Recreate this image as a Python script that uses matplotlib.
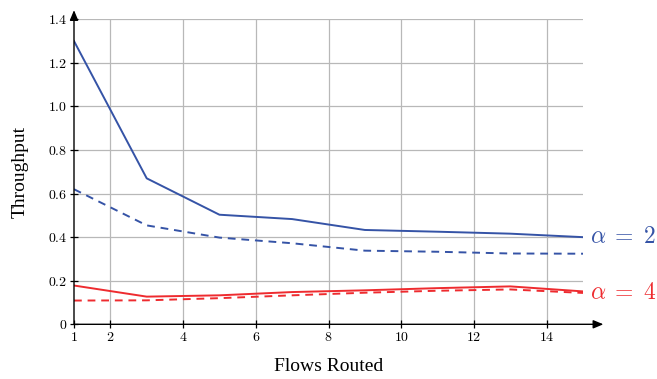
import matplotlib
matplotlib.use("Agg")
import matplotlib.pyplot as plt

plt.rcParams['font.family'] = ['Liberation Serif', 'DejaVu Serif']
plt.rcParams['mathtext.fontset'] = 'cm'

flows = [1, 3, 5, 7, 9, 11, 13, 15]
a2_solid = [1.30, 0.67, 0.503, 0.483, 0.433, 0.425, 0.416, 0.400]
a2_dashed = [0.62, 0.454, 0.398, 0.372, 0.338, 0.333, 0.325, 0.324]
a4_solid = [0.178, 0.127, 0.133, 0.148, 0.156, 0.166, 0.174, 0.151]
a4_dashed = [0.109, 0.110, 0.120, 0.133, 0.145, 0.154, 0.160, 0.144]

xticks = [1, 2, 4, 6, 8, 10, 12, 14]
yticks = [0, 0.2, 0.4, 0.6, 0.8, 1.0, 1.2, 1.4]
ytick_labels = ['0', '0.2', '0.4', '0.6', '0.8', '1.0', '1.2', '1.4']

blue = '#3553a6'
red = '#ee2b2f'

fig = plt.figure(figsize=(6.57, 3.79), dpi=100)
ax = fig.add_axes([74/657, 1-324.3/379, 509/657, 305/379])

ax.set_xlim(1, 15)
ax.set_ylim(0, 1.4)

for x in xticks[1:]:
    ax.axvline(x, color='#b8b8b8', lw=0.9, zorder=0)
for y in yticks[1:]:
    ax.axhline(y, color='#b8b8b8', lw=0.9, zorder=0)

ax.plot(flows, a2_solid, color=blue, lw=1.4)
ax.plot(flows, a2_dashed, color=blue, lw=1.4, ls=(0, (4, 3)))
ax.plot(flows, a4_solid, color=red, lw=1.4)
ax.plot(flows, a4_dashed, color=red, lw=1.4, ls=(0, (4, 3)))

for s in ['top', 'right', 'left', 'bottom']:
    ax.spines[s].set_visible(False)

# axes with arrows
ax.annotate('', xy=(1.04, 0), xytext=(0, 0), xycoords='axes fraction',
            arrowprops=dict(arrowstyle='-|>,head_length=0.6,head_width=0.25', color='black', lw=1.0, shrinkA=0, shrinkB=0))
ax.annotate('', xy=(0, 1.03), xytext=(0, 0), xycoords='axes fraction',
            arrowprops=dict(arrowstyle='-|>,head_length=0.6,head_width=0.25', color='black', lw=1.0, shrinkA=0, shrinkB=0))

ax.set_xticks(xticks)
ax.set_xticklabels([r'$%d$' % v for v in xticks])
ax.set_yticks(yticks)
ax.set_yticklabels([r'$%s$' % s for s in ytick_labels])
ax.tick_params(direction='inout', length=6, width=0.9, color='black', labelsize=10, pad=2)

ax.text(15.2, a2_solid[-1], r'$\alpha \;=\; 2$', color=blue, fontsize=17, va='center', ha='left')
ax.text(15.2, a4_solid[-1] - 0.01, r'$\alpha \;=\; 4$', color=red, fontsize=17, va='center', ha='left')

ax.set_xlabel('Flows Routed', fontsize=14, labelpad=10)
ax.set_ylabel('Throughput', fontsize=14, labelpad=14)

fig.savefig('out.png', dpi=100)
